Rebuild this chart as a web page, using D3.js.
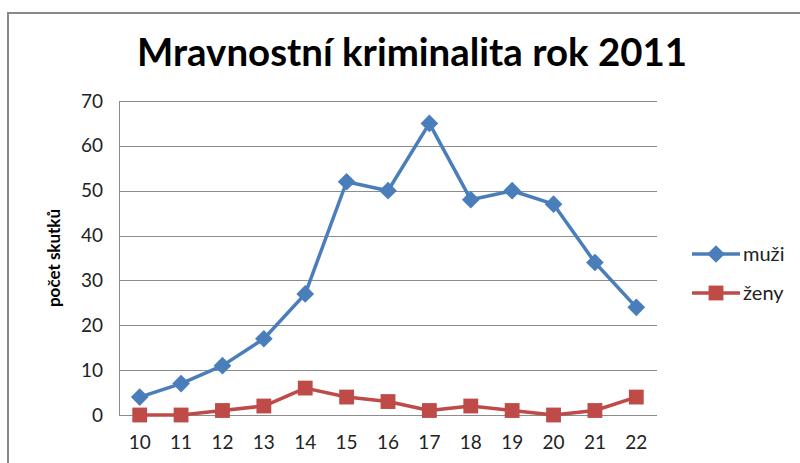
<!DOCTYPE html>
<html>
<head>
<meta charset="utf-8">
<script src="https://cdn.jsdelivr.net/npm/d3@7"></script>
<style>
  body { margin: 0; background: #fff; }
  svg { display: block; font-family: Lato, "Open Sans", sans-serif; }
</style>
</head>
<body>
<svg id="chart" width="800" height="463"></svg>
<script>
// data
const categories = ['10','11','12','13','14','15','16','17','18','19','20','21','22'];
const muzi = [4, 7, 11, 17, 27, 52, 50, 65, 48, 50, 47, 34, 24];
const zeny = [0, 0, 1, 2, 6, 4, 3, 1, 2, 1, 0, 1, 4];
const yTicks = [0, 10, 20, 30, 40, 50, 60, 70];
const seriesNames = ['muži', 'ženy'];

const svg = d3.select('#chart');
const m = { left: 119, right: 657, top: 101, bottom: 415 };

// outer frame
svg.append('rect').attr('x', 8).attr('y', 13).attr('width', 800).attr('height', 470)
  .attr('fill', 'none').attr('stroke', '#888').attr('stroke-width', 2);

svg.append('text').attr('x', 412).attr('y', 66).attr('text-anchor', 'middle')
  .style('font-size', '39px').style('font-weight', '700').attr('fill', '#000')
  .attr('textLength', 550).attr('lengthAdjust', 'spacingAndGlyphs')
  .text('Mravnostní kriminalita rok 2011');

const x = d3.scaleBand().domain(categories).range([m.left, m.right]);
const y = d3.scaleLinear().domain([0, 70]).range([m.bottom, m.top]);

// gridlines
svg.append('g').selectAll('line').data(yTicks).join('line')
  .attr('x1', m.left).attr('x2', m.right)
  .attr('y1', d => Math.round(y(d)) + 0.5).attr('y2', d => Math.round(y(d)) + 0.5)
  .attr('stroke', '#8c8c8c').attr('stroke-width', 1);
svg.append('line').attr('x1', m.left + 0.5).attr('x2', m.left + 0.5)
  .attr('y1', m.top).attr('y2', m.bottom).attr('stroke', '#8c8c8c');

// y axis labels
const yAxis = svg.append('g').attr('transform', `translate(${m.left},0)`)
  .call(d3.axisLeft(y).tickValues(yTicks).tickSize(0).tickPadding(16));
yAxis.select('.domain').remove();
yAxis.selectAll('text').style('font-size', '19px').style('font-family', 'Lato, "Open Sans", sans-serif').attr('fill', '#222');

// x axis labels
const xAxis = svg.append('g').attr('transform', `translate(0,${m.bottom})`)
  .call(d3.axisBottom(x).tickSize(0).tickPadding(21));
xAxis.select('.domain').remove();
xAxis.selectAll('text').style('font-size', '19px').style('font-family', 'Lato, "Open Sans", sans-serif').attr('fill', '#222');

svg.append('text').attr('transform', 'translate(60,258) rotate(-90)')
  .attr('text-anchor', 'middle').style('font-size', '17px').style('font-weight', '700')
  .text('počet skutků');

const cx = d => x(d) + x.bandwidth() / 2;
const colors = ['#4a7ebb', '#be4b48'];
const line = d3.line().x((d, i) => cx(categories[i])).y(d => y(d));

const diamond = d3.symbol().type(d3.symbolDiamond2).size(200);
const square = d3.symbol().type(d3.symbolSquare).size(220);
const marks = [diamond, square];

[muzi, zeny].forEach((vals, s) => {
  svg.append('path').datum(vals).attr('d', line)
    .attr('fill', 'none').attr('stroke', colors[s]).attr('stroke-width', 3.5)
    .attr('stroke-linejoin', 'round');
  svg.append('g').selectAll('path').data(vals).join('path')
    .attr('d', marks[s])
    .attr('transform', (d, i) => `translate(${cx(categories[i])},${y(d)})`)
    .attr('fill', colors[s]);
});

// legend
const leg = svg.append('g');
seriesNames.forEach((name, s) => {
  const ly = 254 + s * 39;
  leg.append('line').attr('x1', 692).attr('x2', 740).attr('y1', ly).attr('y2', ly)
    .attr('stroke', colors[s]).attr('stroke-width', 3.5);
  leg.append('path').attr('d', marks[s]).attr('transform', `translate(716,${ly})`).attr('fill', colors[s]);
  leg.append('text').attr('x', 743).attr('y', ly + 7).style('font-size', '20px').attr('fill', '#222').text(name);
});
</script>
</body>
</html>
